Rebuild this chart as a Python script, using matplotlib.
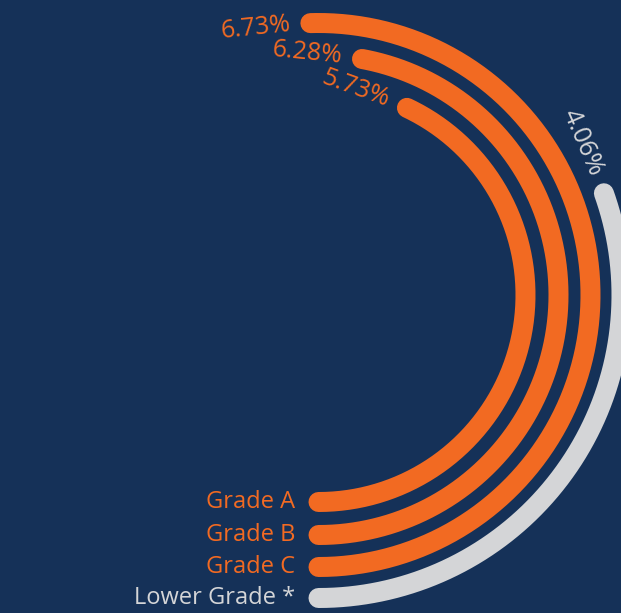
import numpy as np
import matplotlib.pyplot as plt

# pass rate by grade (%)
grades = ["Grade A", "Grade B", "Grade C", "Lower Grade *"]
rates = [5.73, 6.28, 6.73, 4.06]

# styling
bg = '#153158'
orange = '#F26A22'
grey = '#D4D5D7'
colors = [orange, orange, orange, grey]
radii = [207, 240, 272, 303]      # ring radius, in pixels
deg_per_pct = 27                  # angular scale of the rings

W, H, dpi = 621, 613, 100
cx, cy = 318.5, 295               # ring centre, pixels from top-left
rmax = 340

fig = plt.figure(figsize=(W / dpi, H / dpi), dpi=dpi, facecolor=bg)
ax = fig.add_axes([(cx - rmax) / W, (H - cy - rmax) / H, 2 * rmax / W, 2 * rmax / H],
                  projection='polar')
ax.set_theta_zero_location('S')
ax.set_theta_direction(1)
ax.set_ylim(0, rmax)
ax.set_axis_off()

for name, v, r, c in zip(grades, rates, radii, colors):
    end = np.radians(v * deg_per_pct)
    th = np.linspace(0, end, 300)
    ax.plot(th, np.full_like(th, r), color=c, lw=14.4, solid_capstyle='round')

    # value label just past the end of the ring
    phi = end + 20 / r
    ax.text(phi, r, f"{v:.2f}%", color=c, fontsize=18, family='Open Sans',
            rotation=np.degrees(phi) - 180, rotation_mode='anchor',
            ha='right', va='center')

    # category label to the left of the ring start
    ax.annotate(name, xy=(0, r), xytext=(-17, 0), textcoords='offset points',
                color=c, fontsize=17, family='Open Sans', ha='right', va='center')

fig.savefig('out.png', dpi=dpi, facecolor=bg)
